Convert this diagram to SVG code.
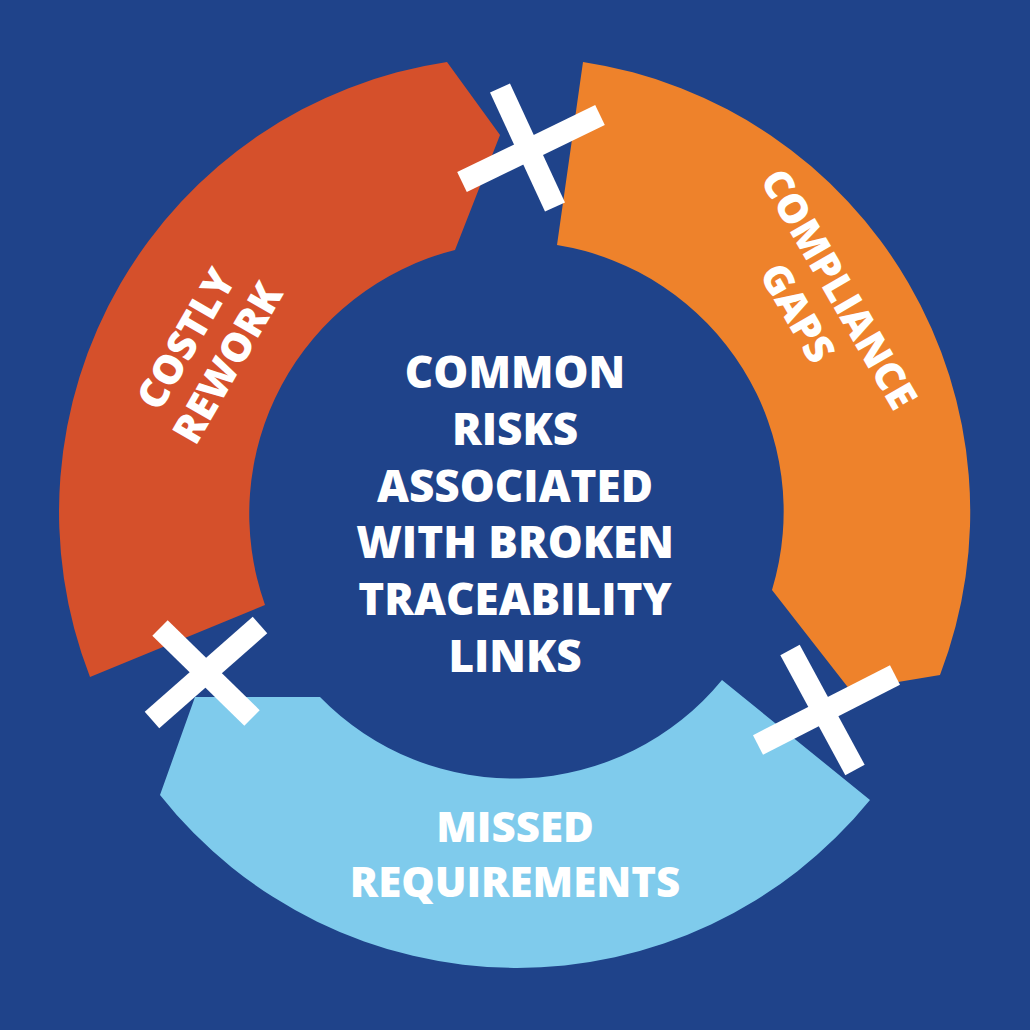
<svg xmlns="http://www.w3.org/2000/svg" width="1030" height="1030" viewBox="0 0 1030 1030">
<style>
.t{font-family:"Open Sans","Liberation Sans",sans-serif;font-weight:800;fill:#fff;text-anchor:middle}
.x{stroke:#fff;stroke-width:22;fill:none;stroke-linecap:butt}
</style>
<rect width="1030" height="1030" fill="#1f438a"/>
<g id="costly-rework">
<path d="M90,677 A455,455 0 0 1 447,62 L500,135 L455,250 A272,272 0 0 0 265,605 Z" fill="#d5502b"/>
<text class="t" font-size="40" transform="translate(205,350) rotate(-60)"><tspan x="0" y="-8">COSTLY</tspan><tspan x="0" y="40">REWORK</tspan></text>
</g>
<g id="compliance-gaps">
<path d="M583,62 A455,455 0 0 1 940,675 L850,690 L772,590 A270,270 0 0 0 557,245 Z" fill="#ee822b"/>
<text class="t" font-size="40" transform="translate(820,300) rotate(60)"><tspan x="0" y="-8">COMPLIANCE</tspan><tspan x="0" y="40">GAPS</tspan></text>
</g>
<g id="missed-requirements">
<path d="M160,795 A455,455 0 0 0 870,800 L722,680 A270,270 0 0 1 320,697 L195,697 Z" fill="#7fcbec"/>
<text class="t" font-size="42"><tspan x="515" y="842">MISSED</tspan><tspan x="515" y="897">REQUIREMENTS</tspan></text>
</g>
<g id="center">
<text class="t" font-size="44"><tspan x="515" y="388">COMMON</tspan><tspan x="515" y="445">RISKS</tspan><tspan x="515" y="502">ASSOCIATED</tspan><tspan x="515" y="558">WITH BROKEN</tspan><tspan x="515" y="615">TRACEABILITY</tspan><tspan x="515" y="672">LINKS</tspan></text>
</g>
<g id="connectors">
<line class="x" x1="462" y1="182" x2="600" y2="115"/>
<line class="x" x1="500" y1="88" x2="555" y2="207"/>
<line class="x" x1="160" y1="628" x2="252" y2="718"/>
<line class="x" x1="152" y1="720" x2="260" y2="625"/>
<line class="x" x1="758" y1="745" x2="895" y2="675"/>
<line class="x" x1="790" y1="650" x2="855" y2="770"/>
</g>
</svg>
